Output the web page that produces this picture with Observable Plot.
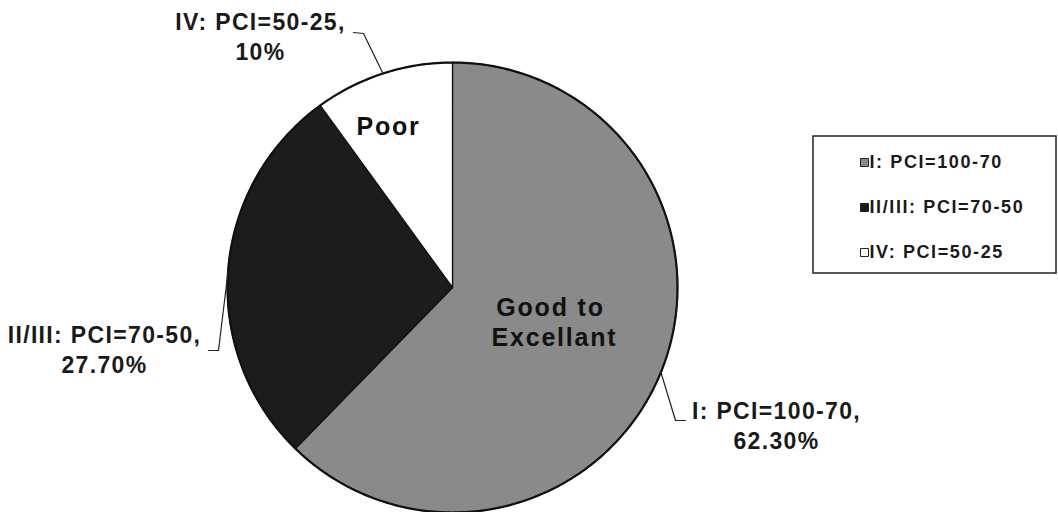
<!DOCTYPE html>
<html>
<head>
<meta charset="utf-8">
<script src="https://cdn.jsdelivr.net/npm/d3@7"></script>
<script src="https://cdn.jsdelivr.net/npm/@observablehq/plot@0.6"></script>
<style>
  html, body { margin: 0; padding: 0; background: #fff; }
  #chart { width: 1058px; height: 512px; overflow: hidden; }
  svg text { font-family: "Liberation Sans", Arial, sans-serif; }
  svg g[font-size="23"] text { letter-spacing: 1.35px; }
  svg g[font-size="25"] text { letter-spacing: 1.8px; }
  svg g[font-size="18"] text { letter-spacing: 1.6px; }
</style>
</head>
<body>
<div id="chart"></div>
<script>
// ---- data ----
const categories = ["I: PCI=100-70", "II/III: PCI=70-50", "IV: PCI=50-25"];
const values = [62.3, 27.7, 10];
const percentLabels = ["62.30%", "27.70%", "10%"];
const sliceNames = [["Good to", "Excellant"], [], ["Poor"]];
const colors = ["#8a8a8a", "#1c1c1c", "#ffffff"];

// ---- layout (pixels relative to pie centre, y down) ----
const W = 1058, H = 512;
const CX = 452, CY = 287, R = 225;
const outside = [
  {elbow: [223, 133], end: [233, 133], label: [324, 124]},
  {elbow: [-234, 63], end: [-244, 63], label: [-348, 48]},
  {elbow: [-89, -254], end: [-99, -255], label: [-192, -265]}
];
const inside = [[98, 20], null, [-64, -161]];
const legendBox = {x1: 361, x2: 604, y1: -151, y2: -14};
const legendRows = [-125, -80, -35];
const legendSwatchX = 412, legendTextX = 417;

// ---- pie geometry from values ----
const total = d3.sum(values);
let acc = 0;
const slices = values.map((v, i) => {
  const a0 = acc / total * 2 * Math.PI;
  acc += v;
  const a1 = acc / total * 2 * Math.PI;
  return {cat: categories[i], a0, a1, mid: (a0 + a1) / 2};
});
const pts = [];
for (const s of slices) {
  pts.push({cat: s.cat, x: 0, y: 0});
  const n = Math.max(8, Math.ceil((s.a1 - s.a0) / (2 * Math.PI) * 360));
  for (let k = 0; k <= n; k++) {
    const a = s.a0 + (s.a1 - s.a0) * k / n;
    pts.push({cat: s.cat, x: R * Math.sin(a), y: -R * Math.cos(a)});
  }
  pts.push({cat: s.cat, x: 0, y: 0});
}
// outer rim (heavier outline)
const rim = [];
for (let k = 0; k <= 360; k++) {
  const a = k / 360 * 2 * Math.PI;
  rim.push({x: R * Math.sin(a), y: -R * Math.cos(a)});
}

const leaders = [];
slices.forEach((s, i) => {
  const o = outside[i];
  leaders.push({cat: s.cat, x: R * Math.sin(s.mid), y: -R * Math.cos(s.mid)});
  leaders.push({cat: s.cat, x: o.elbow[0], y: o.elbow[1]});
  leaders.push({cat: s.cat, x: o.end[0], y: o.end[1]});
});

const outerText = [];
slices.forEach((s, i) => {
  const o = outside[i];
  outerText.push({x: o.label[0], y: o.label[1], t: categories[i] + ","});
  outerText.push({x: o.label[0], y: o.label[1] + 30, t: percentLabels[i]});
});

const innerText = [];
slices.forEach((s, i) => {
  if (!inside[i]) return;
  sliceNames[i].forEach((t, k) => innerText.push({x: inside[i][0] + (k ? 4 : 0), y: inside[i][1] + k * 30, t}));
});

const legendItems = categories.map((c, i) => ({cat: c, y: legendRows[i]}));

const plot = Plot.plot({
  width: W, height: H,
  marginTop: 0, marginRight: 0, marginBottom: 0, marginLeft: 0,
  x: {domain: [-CX, W - CX], range: [0, W], axis: null},
  y: {domain: [-CY, H - CY], range: [0, H], axis: null},
  color: {domain: categories, range: colors},
  style: {background: "#fff"},
  marks: [
    Plot.line(pts, {x: "x", y: "y", z: "cat", fill: "cat", stroke: "#111", strokeWidth: 1.3, curve: "linear"}),
    Plot.line(rim, {x: "x", y: "y", stroke: "#111", strokeWidth: 2.2}),
    Plot.line(leaders, {x: "x", y: "y", z: "cat", stroke: "#222", strokeWidth: 1.2}),
    Plot.text(outerText, {x: "x", y: "y", text: "t", fontSize: 23, fontWeight: "bold", fill: "#1a1a1a", textAnchor: "middle"}),
    Plot.text(innerText, {x: "x", y: "y", text: "t", fontSize: 25, fontWeight: "bold", fill: "#111", textAnchor: "middle"}),
    Plot.rect([legendBox], {x1: "x1", x2: "x2", y1: "y1", y2: "y2", fill: "#fff", stroke: "#222", strokeWidth: 1.5}),
    Plot.dot(legendItems, {x: legendSwatchX, y: "y", symbol: "square", r: 4.5, fill: "cat", stroke: "#222", strokeWidth: 1}),
    Plot.text(legendItems, {x: legendTextX, y: "y", text: "cat", fontSize: 18, fontWeight: "bold", fill: "#1a1a1a", textAnchor: "start"})
  ]
});
document.getElementById("chart").appendChild(plot);
</script>
</body>
</html>
